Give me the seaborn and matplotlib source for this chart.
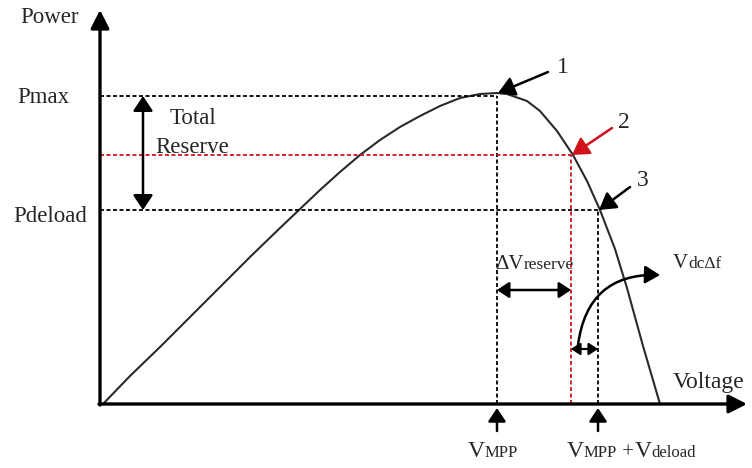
import numpy as np
import pandas as pd
import matplotlib
matplotlib.use("Agg")
import matplotlib.pyplot as plt
import seaborn as sns
from matplotlib.patches import ArrowStyle

# P-V 曲线（从图上读取的点，单位为任意单位）
voltage = [3, 30, 60, 90, 120, 150, 180, 200, 220, 240, 260, 280, 300, 320,
           340, 360, 380, 397, 407, 427, 440, 457, 473, 487, 500, 515, 527,
           543, 560]
power = [0, 28, 57, 87, 117, 147, 176, 195, 214, 232, 249, 264, 277, 288,
         298, 306, 310, 311, 310, 303, 293, 273, 249, 223, 194, 155, 116,
         58, 0]

# 运行点
p_max, p_reserve, p_deload = 308, 249, 194
v_mpp, v_reserve, v_deload = 397, 471, 498
point_labels = ["1", "2", "3"]

SERIF = "Liberation Serif"
RED = "#d0121b"

sns.set_style("white")
plt.rcParams["font.family"] = [SERIF, "DejaVu Serif"]

fig = plt.figure(figsize=(7.52, 4.68), dpi=100)
ax = fig.add_axes([0, 0, 1, 1])

# 曲线
df = pd.DataFrame({"V": voltage, "P": power})
sns.lineplot(data=df, x="V", y="P", ax=ax, color="#2a2a2a", lw=1.5,
             estimator=None, sort=False)
ax.set_xlim(-100, 652)
ax.set_ylim(-64, 404)
ax.set_axis_off()

# 坐标轴箭头
axis_style = ArrowStyle("-|>", head_length=0.55, head_width=0.28)
ax.annotate("", xy=(0, 394), xytext=(0, -1),
            arrowprops=dict(arrowstyle=axis_style, lw=2.4, color="k",
                            mutation_scale=20, shrinkA=0, shrinkB=0))
ax.annotate("", xy=(647, 0), xytext=(-1, 0),
            arrowprops=dict(arrowstyle=axis_style, lw=2.4, color="k",
                            mutation_scale=20, shrinkA=0, shrinkB=0))

# 辅助虚线
dash = (0, (2.2, 1.4))
ax.hlines(p_max, 0, v_mpp, colors="k", lw=1.3, linestyles=dash)
ax.vlines(v_mpp, 0, p_max, colors="k", lw=1.3, linestyles=dash)
ax.hlines(p_reserve, 0, v_reserve, colors=RED, lw=1.3, linestyles=dash)
ax.vlines(v_reserve, 0, p_reserve, colors=RED, lw=1.3, linestyles=dash)
ax.hlines(p_deload, 0, v_deload, colors="k", lw=1.3, linestyles=dash)
ax.vlines(v_deload, 0, p_deload, colors="k", lw=1.3, linestyles=dash)

# 指向运行点的箭头
pt_style = ArrowStyle("-|>", head_length=0.5, head_width=0.3)
targets = [(v_mpp + 1, p_max + 3), (v_reserve + 1, p_reserve), (v_deload + 1, p_deload)]
starts = [(448, 332), (512, 276), (530, 217)]
cols = ["k", RED, "k"]
label_pos = [(457, 331), (518, 276), (537, 218)]
for lab, tgt, st, c, lp in zip(point_labels, targets, starts, cols, label_pos):
    ax.annotate("", xy=tgt, xytext=st,
                arrowprops=dict(arrowstyle=pt_style, lw=1.8, color=c,
                                mutation_scale=20, shrinkA=0, shrinkB=0))
    ax.text(lp[0], lp[1], lab, fontsize=17, va="baseline", ha="left")

# 双向箭头
dbl = ArrowStyle("<|-|>", head_length=0.45, head_width=0.3)
ax.annotate("", xy=(43, p_max), xytext=(43, p_deload),
            arrowprops=dict(arrowstyle=dbl, lw=1.8, color="k",
                            mutation_scale=20, shrinkA=0, shrinkB=0))
ax.annotate("", xy=(v_mpp, 114), xytext=(v_reserve, 114),
            arrowprops=dict(arrowstyle=dbl, lw=1.8, color="k",
                            mutation_scale=16, shrinkA=0, shrinkB=0))
ax.annotate("", xy=(v_reserve, 55), xytext=(v_deload, 55),
            arrowprops=dict(arrowstyle=dbl, lw=1.6, color="k",
                            mutation_scale=12, shrinkA=0, shrinkB=0))
ax.annotate("", xy=(560, 129), xytext=(478, 59),
            arrowprops=dict(arrowstyle=ArrowStyle("-|>", head_length=0.5, head_width=0.3),
                            lw=1.8, color="k", mutation_scale=18,
                            shrinkA=0, shrinkB=0,
                            connectionstyle="arc3,rad=-0.45"))

# 电压轴下方的箭头
up = ArrowStyle("-|>", head_length=0.45, head_width=0.3)
for v in (v_mpp, v_deload):
    ax.annotate("", xy=(v, -4), xytext=(v, -27),
                arrowprops=dict(arrowstyle=up, lw=1.8, color="k",
                                mutation_scale=18, shrinkA=0, shrinkB=0))

# 文本
ax.text(-80, 381, "Power", fontsize=16.5, va="baseline")
ax.text(-83, 301, "Pmax", fontsize=16.5, va="baseline")
ax.text(-87, 182, "Pdeload", fontsize=16.5, va="baseline")
ax.text(93, 280, "Total", fontsize=16.5, va="baseline", ha="center")
ax.text(92, 251, "Reserve", fontsize=16.5, va="baseline", ha="center")
ax.text(573, 16, "Voltage", fontsize=17, va="baseline")


def put_parts(x, y, parts):
    r = fig.canvas.get_renderer()
    inv = ax.transData.inverted()
    for s, size in parts:
        t = ax.text(x, y, s, fontsize=size, va="baseline", ha="left")
        bb = t.get_window_extent(renderer=r)
        x = inv.transform((bb.x1, bb.y0))[0]


put_parts(368, -53, [("V", 17), ("MPP", 12)])
put_parts(467, -53, [("V", 17), ("MPP", 12), (" +", 15), ("V", 17), ("deload", 12)])
put_parts(395, 135, [("\u0394V", 15), ("reserve", 12.5)])
put_parts(573, 136, [("V", 15), ("dc\u0394f", 12.5)])

fig.savefig("out.png", dpi=100)
